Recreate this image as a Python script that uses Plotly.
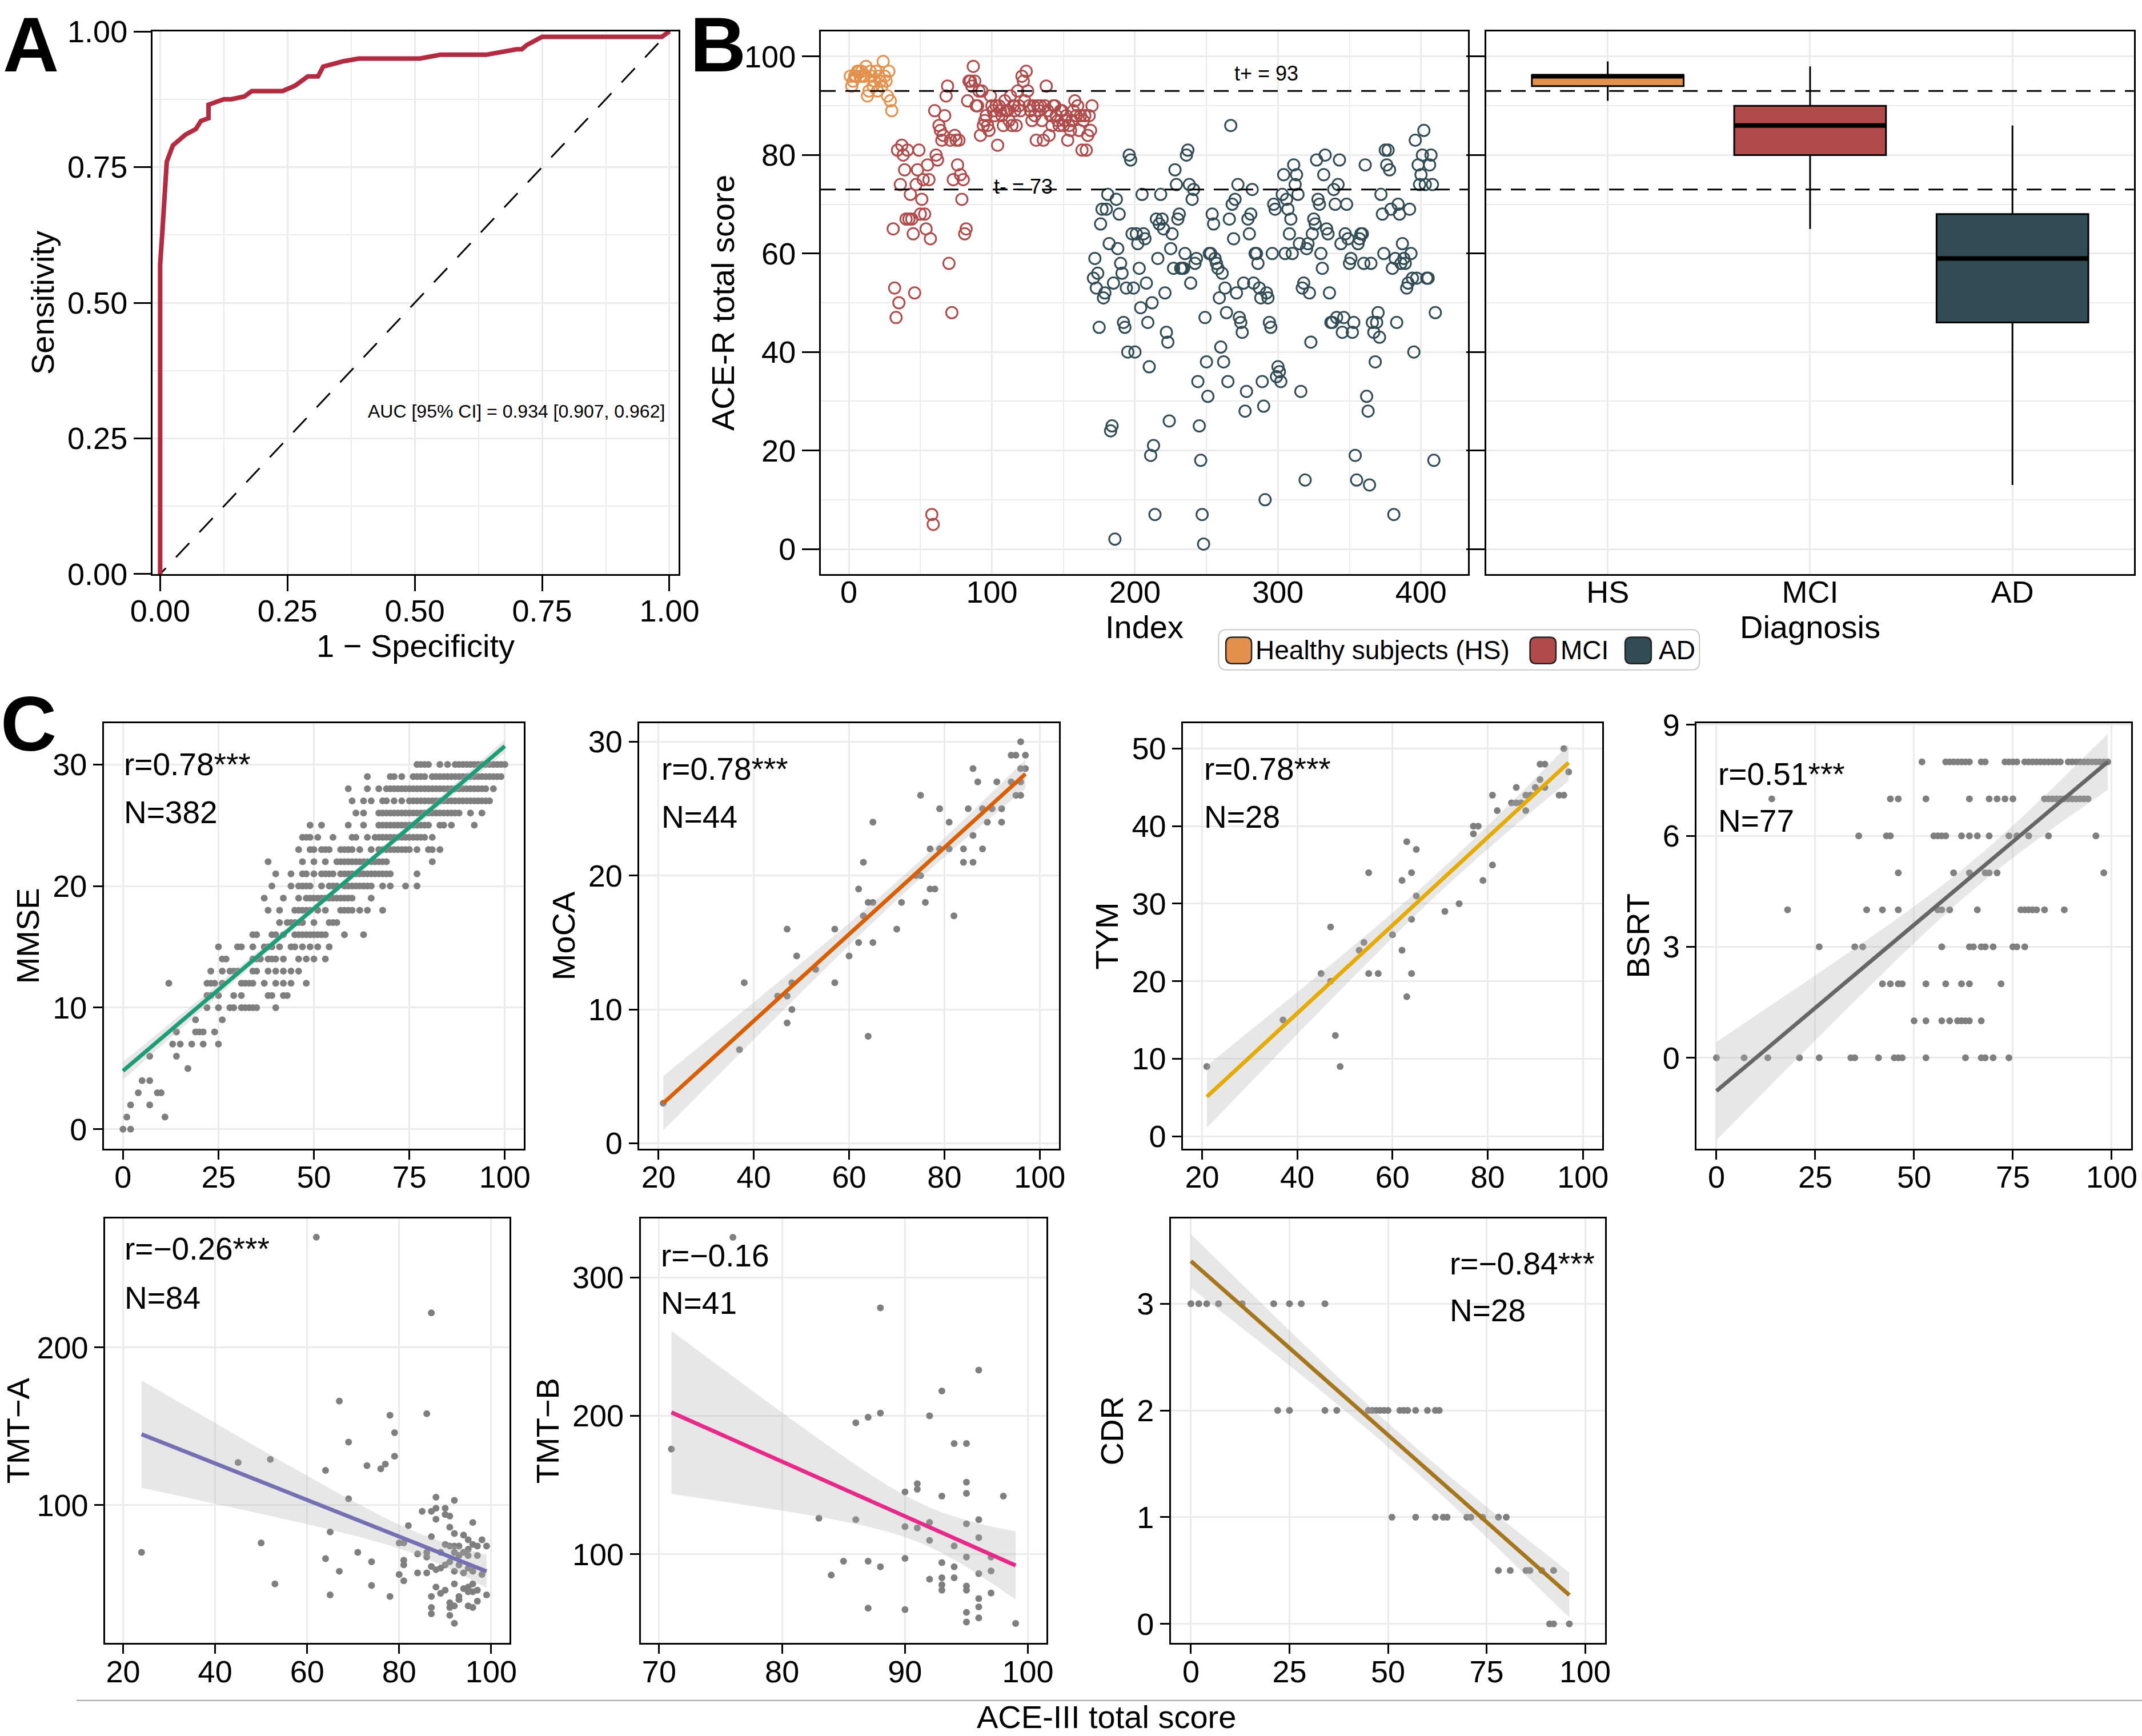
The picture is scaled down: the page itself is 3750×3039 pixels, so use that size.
import numpy as np
import plotly.graph_objects as go

W, H = 3750, 3039
FONT = "Liberation Sans, Arial, Helvetica, sans-serif"
GRID = "#EBEBEB"

# ---------------- A: ROC curve ----------------
roc_fpr = [0.0, 0.0, 0.005, 0.01, 0.013, 0.025, 0.05, 0.07, 0.08, 0.095, 0.095, 0.125,
           0.14, 0.165, 0.18, 0.24, 0.265, 0.29, 0.31, 0.32, 0.36, 0.39, 0.51, 0.55,
           0.64, 0.70, 0.71, 0.72, 0.75, 0.985, 1.0]
roc_tpr = [0.0, 0.57, 0.64, 0.70, 0.76, 0.79, 0.81, 0.82, 0.835, 0.84, 0.865, 0.875,
           0.875, 0.88, 0.89, 0.89, 0.90, 0.917, 0.917, 0.935, 0.945, 0.95, 0.95, 0.957,
           0.957, 0.967, 0.967, 0.975, 0.99, 0.99, 1.0]
auc_text = "AUC [95% CI] = 0.934 [0.907, 0.962]"

# ---------------- B: ACE-R by diagnosis ----------------
hs_scores = [96, 94, 95, 96, 96, 97, 97, 96, 97, 96, 96, 98, 92, 93, 97,
             96, 94, 95, 97, 93, 96, 95, 94, 99, 96, 95, 92, 97, 91, 89]
mci_scores = [65, 53, 47, 81, 50, 74, 82, 80, 77, 67, 81, 67, 72, 67, 64, 52, 74, 77, 81, 68,
              71, 75, 68, 65, 78, 75, 63, 7, 5, 89, 80, 79, 86, 85, 83, 84, 88, 92, 94, 58,
              83, 48, 75, 84, 83, 78, 83, 76, 71, 75, 64, 65, 91, 95, 95, 94, 98, 95, 90, 90,
              93, 84, 93, 86, 87, 88, 86, 85, 92, 90, 89, 88, 90, 82, 90, 89, 88, 86, 91, 89,
              89, 87, 92, 86, 90, 89, 86, 93, 90, 89, 96, 95, 91, 97, 93, 90, 89, 87, 90, 88,
              83, 90, 89, 90, 87, 83, 90, 94, 89, 84, 88, 86, 90, 90, 88, 87, 86, 89, 89, 86,
              87, 88, 83, 86, 85, 87, 89, 91, 88, 90, 85, 88, 81, 87, 88, 81, 84, 88, 85, 90]
ad_scores = [55, 59, 53, 56, 45, 66, 69, 51, 52, 69, 72, 62, 24, 25, 54, 2, 71, 61, 68, 58,
             56, 46, 45, 53, 40, 80, 79, 64, 53, 40, 64, 62, 57, 49, 72, 64, 63, 54, 46, 37,
             19, 50, 21, 7, 67, 59, 66, 72, 67, 65, 52, 44, 42, 26, 61, 64, 57, 77, 74, 67,
             68, 57, 57, 57, 60, 80, 81, 74, 54, 71, 73, 58, 59, 34, 25, 18, 7, 1, 47, 38,
             31, 60, 60, 68, 66, 59, 58, 57, 51, 41, 56, 38, 53, 48, 34, 67, 86, 70, 63, 71,
             52, 74, 47, 46, 44, 54, 28, 32, 67, 64, 68, 73, 54, 60, 60, 58, 53, 51, 34, 29,
             10, 52, 51, 46, 45, 60, 70, 69, 35, 37, 36, 34, 72, 76, 60, 71, 69, 64, 67, 60,
             78, 74, 76, 72, 62, 32, 53, 54, 14, 61, 62, 52, 42, 64, 67, 66, 79, 71, 70, 60,
             57, 76, 80, 65, 64, 52, 46, 46, 73, 70, 47, 74, 79, 62, 44, 47, 64, 70, 63, 58,
             59, 44, 46, 19, 14, 62, 63, 64, 64, 58, 78, 31, 28, 13, 58, 46, 44, 38, 46, 48,
             43, 72, 68, 60, 81, 78, 81, 77, 69, 57, 7, 59, 46, 70, 68, 58, 62, 59, 58, 53,
             54, 69, 60, 55, 40, 83, 55, 78, 74, 76, 80, 85, 74, 55, 55, 78, 80, 74, 18, 48]
group_codes = ["HS", "MCI", "AD"]
group_names = ["Healthy subjects (HS)", "MCI", "AD"]
group_colors = ["#E3914D", "#B04B4C", "#314C55"]
box_lower = [91, 65, 13]
box_q1 = [94, 80, 46]
box_median = [96, 86, 59]
box_q3 = [96.25, 90, 68]
box_upper = [99, 98, 86]
cutoffs = [93, 73]
cutoff_text = ["t+ = 93", "t- = 73"]

# ---------------- C: correlations with ACE-III ----------------
mmse_levels = [30, 29, 28, 27, 26, 25, 24, 23, 22, 21, 20, 19, 18, 17, 16, 15,
               14, 13, 12, 11, 10, 9, 8, 7, 6, 5, 4, 3, 2, 1, 0]
mmse_ace_rows = [
    [77, 78, 79, 80, 83, 85, 87, 88, 89, 90, 91, 92, 93, 94, 95, 96, 97, 98, 99, 100],
    [64, 70, 71, 73, 76, 77, 78, 79, 81, 82, 83, 84, 85, 86, 87, 88, 89, 90, 91, 92, 93, 94, 95, 96, 97, 98, 99],
    [59, 64, 67, 69, 70, 71, 72, 73, 74, 75, 76, 77, 78, 79, 80, 81, 82, 83, 84, 85, 86, 87, 88, 89, 90, 91, 92, 93, 94, 95, 97],
    [60, 63, 65, 68, 69, 71, 73, 75, 76, 77, 78, 79, 80, 81, 82, 83, 84, 85, 86, 87, 88, 89, 90, 91, 92, 93, 94, 95, 96],
    [61, 63, 67, 68, 69, 70, 71, 72, 73, 74, 75, 76, 77, 78, 79, 80, 81, 82, 83, 84, 85, 86, 87, 88, 91, 94],
    [49, 52, 59, 63, 67, 68, 69, 70, 71, 72, 73, 74, 75, 76, 77, 78, 79, 80, 83, 84, 86, 92],
    [47, 48, 49, 51, 55, 60, 61, 64, 66, 67, 68, 69, 70, 71, 72, 73, 74, 75, 76, 77, 78, 79, 81],
    [46, 49, 50, 52, 53, 54, 57, 58, 59, 60, 62, 65, 67, 68, 69, 70, 71, 72, 73, 74, 75, 77, 80, 81, 83],
    [38, 47, 50, 53, 56, 57, 58, 59, 60, 61, 62, 63, 64, 65, 66, 67, 68, 69, 81],
    [40, 44, 47, 48, 50, 52, 53, 54, 55, 57, 58, 59, 60, 61, 62, 63, 64, 65, 66, 67, 68, 69, 70, 77],
    [39, 44, 46, 47, 48, 49, 52, 54, 55, 56, 58, 59, 60, 61, 62, 63, 64, 65, 68, 70, 74, 77],
    [37, 42, 46, 48, 49, 50, 51, 52, 53, 54, 55, 56, 57, 58, 59, 60, 65],
    [38, 41, 45, 46, 47, 48, 49, 51, 53, 57, 58, 59, 60, 62, 64, 68],
    [41, 43, 44, 45, 46, 47, 50, 54, 55, 56],
    [34, 35, 39, 40, 42, 45, 46, 47, 48, 49, 50, 51, 52, 53, 58, 63],
    [25, 30, 31, 34, 37, 38, 39, 41, 44, 45, 47, 49, 51, 54],
    [26, 27, 34, 35, 36, 38, 39, 40, 42, 46, 48, 50, 53],
    [23, 26, 28, 29, 30, 34, 35, 38, 40, 42, 44, 46],
    [12, 22, 23, 24, 26, 31, 32, 33, 34, 37, 40, 42, 44, 48],
    [22, 23, 25, 29, 31, 38, 39, 42, 43],
    [22, 25, 28, 29, 31, 32, 33, 34, 35, 40],
    [19, 26],
    [14, 19, 20, 21, 24],
    [13, 15, 18, 21, 25],
    [7, 14],
    [17],
    [5, 7],
    [4, 9, 10],
    [2, 7],
    [1, 11],
    [0, 2],
]

moca_ace = [96, 94, 95, 97, 86, 96, 97, 87, 91, 94,
            96, 75, 95, 96, 79, 85, 88, 90, 92, 65,
            81, 89, 92, 86, 77, 79, 81, 84, 88, 63,
            84, 86, 75, 74, 62, 77, 78, 64, 65, 71,
            76, 63, 82, 47, 57, 70, 62, 65, 49, 60,
            53, 38, 48, 57, 45, 47, 48, 47, 64, 37, 21]
moca_score = [30, 29, 29, 29, 28, 28, 28, 27, 27, 27,
              27, 26, 26, 26, 25, 25, 25, 25, 25, 24,
              24, 24, 24, 23, 22, 22, 22, 22, 22, 21,
              21, 21, 20, 20, 19, 19, 19, 18, 18, 18,
              18, 17, 17, 16, 16, 16, 15, 15, 14, 14,
              13, 12, 12, 12, 11, 11, 10, 9, 8, 7, 3]

tym_ace = [96, 91, 92, 97, 91, 90, 92, 86, 81, 88,
           89, 95, 96, 85, 86, 87, 82, 88, 77, 78,
           77, 63, 65, 81, 55, 64, 62, 79, 65, 74,
           71, 64, 47, 60, 54, 53, 62, 45, 55, 57,
           64, 47, 63, 37, 48, 21, 49]
tym_score = [50, 48, 48, 47, 46, 45, 45, 45, 44, 44,
             44, 44, 44, 43, 43, 43, 42, 42, 40, 40,
             39, 38, 37, 35, 34, 34, 33, 33, 31, 30,
             29, 28, 27, 26, 25, 24, 24, 21, 21, 21,
             21, 20, 18, 15, 13, 9, 9]

bsrt_levels = [8, 7, 6, 5, 4, 3, 2, 1, 0]
bsrt_ace_rows = [
    [52, 58, 59, 60, 61, 62, 63, 64, 67, 68, 73, 74, 75, 76, 78, 79, 80, 81, 82, 83, 84, 85, 86, 87,
     89, 90, 91, 92, 93, 94, 95, 96, 97, 98, 99],
    [14, 44, 46, 53, 64, 69, 71, 73, 75, 83, 84, 85, 86, 87, 88, 89, 90, 91, 92, 93, 94],
    [36, 43, 44, 55, 56, 57, 58, 62, 64, 66, 69, 74, 76, 79, 84, 96],
    [46, 60, 64, 68, 69, 71, 98],
    [18, 38, 42, 46, 56, 57, 59, 66, 77, 78, 79, 80, 81, 83, 88],
    [26, 35, 37, 57, 64, 65, 67, 68, 70, 75, 76, 78],
    [42, 44, 46, 47, 53, 58, 62, 64, 72],
    [50, 53, 57, 59, 61, 62, 63, 64, 67],
    [0, 7, 13, 21, 26, 34, 35, 41, 45, 46, 47, 53, 63, 67, 68, 70, 74],
]

tmta_ace = [62, 87, 67, 78, 86, 79, 69, 45, 52, 64,
            73, 76, 77, 79, 69, 88, 92, 88, 90, 85,
            87, 90, 91, 88, 96, 82, 91, 65, 87, 92,
            94, 98, 95, 50, 80, 81, 71, 24, 84, 86,
            86, 64, 74, 81, 81, 94, 95, 97, 93, 92,
            91, 90, 96, 99, 89, 92, 93, 95, 97, 88,
            90, 91, 93, 95, 67, 84, 86, 80, 87, 89,
            92, 94, 96, 98, 53, 74, 81, 65, 78, 88,
            90, 92, 94, 95, 96, 97, 99, 87, 89, 93,
            95, 96, 91, 93, 95, 96, 97, 87, 87, 91,
            91, 92, 92]
tmta_score = [270, 222, 166, 157, 158, 146, 140, 127, 129, 122,
              125, 123, 126, 131, 104, 105, 103, 98, 98, 96,
              96, 94, 93, 91, 89, 87, 86, 83, 80, 82,
              81, 78, 78, 76, 76, 76, 70, 70, 69, 70,
              67, 66, 64, 65, 62, 70, 72, 74, 74, 74,
              74, 75, 75, 74, 70, 70, 68, 68, 68, 59,
              62, 64, 62, 60, 58, 57, 57, 56, 61, 60,
              58, 57, 58, 56, 50, 49, 52, 43, 42, 48,
              46, 50, 47, 48, 50, 46, 43, 42, 44, 42,
              45, 45, 38, 40, 36, 35, 39, 35, 31, 35,
              30, 25, 36]

tmtb_ace = [76, 88, 96, 93, 88, 87, 86, 92, 71, 94,
            95, 91, 91, 90, 93, 95, 95, 98, 83, 86,
            96, 90, 91, 92, 95, 92, 94, 96, 95, 97,
            90, 85, 87, 88, 93, 94, 84, 96, 97, 92,
            93, 93, 93, 94, 95, 95, 97, 96, 96, 87,
            90, 95, 96, 95, 99]
tmtb_score = [329, 278, 233, 218, 202, 199, 195, 200, 176, 180,
              180, 151, 147, 145, 142, 152, 144, 142, 126, 125,
              125, 120, 119, 123, 122, 110, 106, 112, 98, 98,
              97, 95, 95, 91, 94, 91, 85, 86, 88, 82,
              83, 78, 74, 83, 77, 74, 72, 68, 62, 61,
              60, 58, 54, 51, 50]

cdr_levels = [3, 2, 1, 0.5, 0]
cdr_ace_rows = [
    [0, 2, 4, 7, 13, 21, 25, 28, 34],
    [22, 25, 34, 37, 45, 46, 47, 48, 49, 50, 53, 54, 55, 57, 60, 62, 63],
    [51, 57, 62, 64, 65, 70, 71, 74, 78, 80],
    [78, 81, 85, 86, 89, 92],
    [91, 92, 96],
]

# fitted line values at the lowest / highest ACE-III score, as drawn in the figure
fit_start = [4.8, 3.0, 5.1, -0.9, 145.0, 202.5, 3.40]
fit_end = [31.5, 27.6, 48.2, 8.0, 58.0, 91.9, 0.27]

r_labels = ["r=0.78***", "r=0.78***", "r=0.78***", "r=0.51***", "r=\u22120.26***", "r=\u22120.16", "r=\u22120.84***"]
n_labels = ["N=382", "N=44", "N=28", "N=77", "N=84", "N=41", "N=28"]
c_titles = ["MMSE", "MoCA", "TYM", "BSRT", "TMT\u2212A", "TMT\u2212B", "CDR"]
c_colors = ["#1B9E77", "#D95F02", "#E6AB02", "#666666", "#7570B3", "#E7298A", "#A6761D"]


def flatten_rows(levels, rows):
    xs = [a for row in rows for a in row]
    ys = [lv for lv, row in zip(levels, rows) for _ in row]
    return xs, ys


mmse_ace, mmse_score = flatten_rows(mmse_levels, mmse_ace_rows)
bsrt_ace, bsrt_score = flatten_rows(bsrt_levels, bsrt_ace_rows)
cdr_ace, cdr_score = flatten_rows(cdr_levels, cdr_ace_rows)
c_data = [(mmse_ace, mmse_score), (moca_ace, moca_score), (tym_ace, tym_score),
          (bsrt_ace, bsrt_score), (tmta_ace, tmta_score), (tmtb_ace, tmtb_score),
          (cdr_ace, cdr_score)]


def smooth_band(x, y, y0, y1, npts=80):
    # line between the drawn end values, 95% band width from the lm standard error
    x = np.asarray(x, float)
    y = np.asarray(y, float)
    n = len(x)
    slope, icpt = np.polyfit(x, y, 1)
    xs = np.linspace(x.min(), x.max(), npts)
    fit = y0 + (y1 - y0) * (xs - x.min()) / (x.max() - x.min())
    s = np.sqrt(np.sum((y - (icpt + slope * x)) ** 2) / (n - 2))
    se = s * np.sqrt(1.0 / n + (xs - x.mean()) ** 2 / np.sum((x - x.mean()) ** 2))
    return xs, fit, fit - 1.98 * se, fit + 1.98 * se


def axis(domain, rng, anchor, ticklen=20, ticks="outside", lw=3, tickvals=None, ticktext=None,
         dtick=None, minor=None, title=None, standoff=15, labels=True, tsize=54, tickformat=None,
         label_shift=0):
    d = dict(domain=domain, range=rng, anchor=anchor, automargin=False, showline=True, linecolor="black",
             linewidth=lw, mirror=True, zeroline=False, showgrid=True, gridcolor=GRID,
             gridwidth=2.5, ticks=ticks, ticklen=ticklen if ticks else 0, tickwidth=lw, tickcolor="black",
             showticklabels=labels, tickfont=dict(family=FONT, size=tsize, color="black"),
             ticklabelstandoff=label_shift)
    if tickvals is not None:
        d.update(tickmode="array", tickvals=tickvals)
    if ticktext is not None:
        d["ticktext"] = ticktext
    if dtick is not None:
        d.update(tick0=0, dtick=dtick)
    if minor is not None:
        d["minor"] = dict(tick0=0, dtick=minor, showgrid=True, gridcolor=GRID, gridwidth=2, ticks="")
    if tickformat:
        d["tickformat"] = tickformat
    if title:
        d["title"] = dict(text=title, standoff=standoff, font=dict(family=FONT, size=56, color="black"))
    return d


fig = go.Figure()
layout = {}

# ---- A ----
a_xr = [-0.015, 1.018]
layout["xaxis"] = axis([0.0712, 0.3168], a_xr, "y", ticklen=27, dtick=0.25, minor=0.125,
                       tickformat=".2f", title="1 \u2212 Specificity", standoff=4, label_shift=-12)
layout["yaxis"] = axis([0.6693, 0.9819], [0, 1], "x", ticklen=30, dtick=0.25, minor=0.125,
                       tickformat=".2f", title="Sensitivity", standoff=6)
fig.add_trace(go.Scatter(x=a_xr, y=a_xr, mode="lines", xaxis="x", yaxis="y",
                         line=dict(color="black", width=3, dash="34px,26px"), showlegend=False))
fig.add_trace(go.Scatter(x=roc_fpr, y=roc_tpr, mode="lines", xaxis="x", yaxis="y",
                         line=dict(color="#B22B40", width=8), showlegend=False))

# ---- B: index scatter ----
b_yr = [-5.1, 105.1]
layout["xaxis2"] = axis([0.3832, 0.6853], [-19.6, 432.8], "y2", ticks="", dtick=100, minor=50,
                        title="Index", standoff=10, label_shift=-18)
layout["yaxis2"] = axis([0.6693, 0.9819], b_yr, "x2", ticklen=30, dtick=20, minor=10,
                        title="ACE-R total score", standoff=0)
start = 1
for scores, color, name in zip([hs_scores, mci_scores, ad_scores], group_colors, group_names):
    idx = np.arange(start, start + len(scores))
    start += len(scores)
    fig.add_trace(go.Scatter(x=idx, y=scores, mode="markers", xaxis="x2", yaxis="y2", name=name,
                             marker=dict(symbol="circle-open", size=20, color=color, line=dict(width=3)),
                             showlegend=False))

# ---- B: box plot ----
layout["xaxis3"] = axis([0.6939, 0.9962], [0.4, 3.6], "y3", ticks="", tickvals=[1, 2, 3],
                        ticktext=group_codes, title="Diagnosis", standoff=10, label_shift=-18)
layout["yaxis3"] = axis([0.6693, 0.9819], b_yr, "x3", ticklen=32, dtick=20, minor=10, labels=False)
for i, code in enumerate(group_codes):
    pos = i + 1
    fig.add_trace(go.Box(x=[pos], q1=[box_q1[i]], median=[box_median[i]], q3=[box_q3[i]],
                         lowerfence=[box_lower[i]], upperfence=[box_upper[i]], width=0.75,
                         whiskerwidth=0, fillcolor=group_colors[i], line=dict(color="black", width=3),
                         boxpoints=False, xaxis="x3", yaxis="y3", name=code, showlegend=False))
    fig.add_trace(go.Scatter(x=[pos - 0.375, pos + 0.375], y=[box_median[i]] * 2, mode="lines",
                             line=dict(color="black", width=8), xaxis="x3", yaxis="y3",
                             showlegend=False, hoverinfo="skip"))

shapes = []
for xr_, yr_ in [("x2", "y2"), ("x3", "y3")]:
    for c in cutoffs:
        shapes.append(dict(type="line", xref=f"{xr_} domain", yref=yr_, x0=0, x1=1, y0=c, y1=c,
                           line=dict(color="black", width=3, dash="26px,17px")))

# ---- C panels ----
c_xdom = [[0.0485, 0.2446], [0.2985, 0.4943], [0.5523, 0.7481], [0.7921, 0.9949],
          [0.0491, 0.2379], [0.2991, 0.4885], [0.5466, 0.7494]]
c_ydom = [[0.3383, 0.5835]] * 4 + [[0.0535, 0.2982]] * 3
c_xr = [[-5, 105], [16.0, 104.0], [16.0, 104.1], [-5.0, 104.9], [16.1, 104.0], [68.5, 101.5], [-5.1, 105.1]]
c_yr = [[-1.6, 33.4], [-0.4, 31.4], [-1.6, 53.3], [-2.46, 9.05], [12.4, 282], [35.8, 342.7], [-0.18, 3.80]]
c_xdt = [25, 20, 20, 25, 20, 10, 25]
c_ydt = [10, 10, 10, 3, 100, 100, 1]
c_lab_x = [0.045, 0.05, 0.048, 0.047, 0.045, 0.047, 0.64]
c_lab_y = [(0.903, 0.79), (0.892, 0.78), (0.892, 0.78), (0.88, 0.77), (0.928, 0.813),
           (0.912, 0.80), (0.894, 0.783)]

annotations = []
for k in range(7):
    n = k + 4
    xa, ya = f"x{n}", f"y{n}"
    layout[f"xaxis{n}"] = axis(c_xdom[k], c_xr[k], ya, ticklen=16, lw=2.5, dtick=c_xdt[k], tsize=54,
                               label_shift=-15)
    layout[f"yaxis{n}"] = axis(c_ydom[k], c_yr[k], xa, ticklen=16, lw=2.5, dtick=c_ydt[k], tsize=54,
                               title=c_titles[k], standoff=6)
    cx, cy = c_data[k]
    fig.add_trace(go.Scatter(x=cx, y=cy, mode="markers", xaxis=xa, yaxis=ya, showlegend=False,
                             marker=dict(size=12, color="#7F7F7F")))
    xs, fit, lo, hi = smooth_band(cx, cy, fit_start[k], fit_end[k])
    fig.add_trace(go.Scatter(x=np.concatenate([xs, xs[::-1]]), y=np.concatenate([hi, lo[::-1]]),
                             fill="toself", fillcolor="rgba(175,175,175,0.30)", line=dict(width=0),
                             mode="lines", xaxis=xa, yaxis=ya, showlegend=False, hoverinfo="skip"))
    fig.add_trace(go.Scatter(x=xs, y=fit, mode="lines", xaxis=xa, yaxis=ya, showlegend=False,
                             line=dict(color=c_colors[k], width=7)))
    for txt, yy in zip([r_labels[k], n_labels[k]], c_lab_y[k]):
        annotations.append(dict(text=txt, xref=f"{xa} domain", yref=f"{ya} domain", x=c_lab_x[k], y=yy,
                                xanchor="left", yanchor="middle", showarrow=False,
                                font=dict(family=FONT, size=55, color="black")))

# ---- text annotations ----
annotations.append(dict(text=auc_text, xref="x", yref="y", x=0.70, y=0.30, showarrow=False,
                        font=dict(family=FONT, size=32, color="black")))
for txt, xx, c in zip(cutoff_text, [292, 122], cutoffs):
    annotations.append(dict(text=txt, xref="x2", yref="y2", x=xx, y=c + (3.6 if c == cutoffs[0] else 0.6),
                            showarrow=False, font=dict(family=FONT, size=36, color="black")))
for letter, lx in [("A", 0.0143), ("B", 0.3352)]:
    annotations.append(dict(text=f"<b>{letter}</b>", xref="paper", yref="paper", x=lx, y=1.0,
                            xanchor="center", yanchor="top", showarrow=False,
                            font=dict(family=FONT, size=136, color="black")))
annotations.append(dict(text="<b>C</b>", xref="paper", yref="paper", x=0.0133, y=0.5831,
                        xanchor="center", yanchor="middle", showarrow=False,
                        font=dict(family=FONT, size=136, color="black")))
annotations.append(dict(text="ACE-III total score", xref="paper", yref="paper", x=0.5166, y=0.0,
                        xanchor="center", yanchor="bottom", showarrow=False,
                        font=dict(family=FONT, size=56, color="black")))
shapes.append(dict(type="line", xref="paper", yref="paper", x0=0.0357, x1=1.0, y0=0.0205, y1=0.0205,
                   line=dict(color="#A0A0A0", width=2)))


# ---- manual legend for B ----
def rounded_rect(x0, y0, x1, y1, r):
    rx, ry = r / W, r / H
    return (f"M{x0 + rx},{y0} L{x1 - rx},{y0} Q{x1},{y0} {x1},{y0 + ry} L{x1},{y1 - ry} "
            f"Q{x1},{y1} {x1 - rx},{y1} L{x0 + rx},{y1} Q{x0},{y1} {x0},{y1 - ry} "
            f"L{x0},{y0 + ry} Q{x0},{y0} {x0 + rx},{y0} Z")


shapes.append(dict(type="path", xref="paper", yref="paper", path=rounded_rect(0.5689, 0.6141, 0.7934, 0.6373, 14),
                   line=dict(color="#C8C8C8", width=2), fillcolor="white"))
key_x = [(0.5723, 0.5843), (0.7143, 0.7264), (0.7587, 0.7709)]
text_x = [0.5856, 0.7280, 0.7738]
for (k0, k1), tx, name, color in zip(key_x, text_x, group_names, group_colors):
    shapes.append(dict(type="path", xref="paper", yref="paper", path=rounded_rect(k0, 0.6177, k1, 0.6329, 11),
                       line=dict(color="#222222", width=2.5), fillcolor=color))
    annotations.append(dict(text=name, xref="paper", yref="paper", x=tx, y=0.6254, xanchor="left",
                            yanchor="middle", showarrow=False, font=dict(family=FONT, size=46, color="black")))

fig.update_layout(
    width=W, height=H, margin=dict(l=0, r=0, t=0, b=0, autoexpand=False),
    paper_bgcolor="white", plot_bgcolor="white", boxmode="overlay",
    font=dict(family=FONT, color="black"), showlegend=False,
    shapes=shapes, annotations=annotations, **layout,
)
fig.write_html("out.html", config={"displayModeBar": False},
               post_script="document.body.style.margin = '0';")
